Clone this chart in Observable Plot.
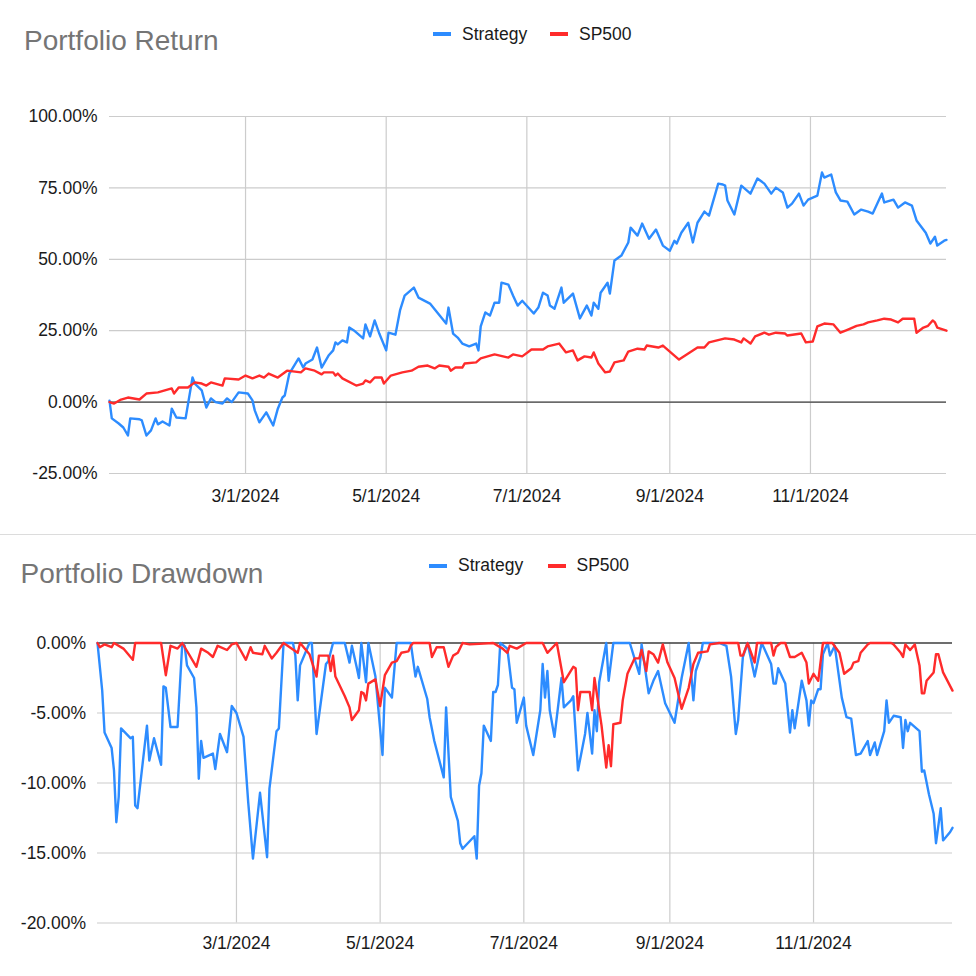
<!DOCTYPE html>
<html><head><meta charset="utf-8">
<script src="https://cdn.jsdelivr.net/npm/d3@7"></script>
<script src="https://cdn.jsdelivr.net/npm/@observablehq/plot@0.6"></script>
<style>
html,body{margin:0;padding:0;background:#fff;}
#wrap{position:relative;width:976px;height:976px;overflow:hidden;font-family:"Liberation Sans",Arial,sans-serif;background:#fff;}
.title{position:absolute;font-size:28px;line-height:28px;color:#757575;white-space:nowrap;}
.leg{position:absolute;font-size:17.5px;line-height:17.5px;color:#1a1a1a;white-space:nowrap;}
.sw{position:absolute;width:18px;height:4.5px;}
#sep{position:absolute;left:0;top:534px;width:976px;height:1px;background:#dcdcdc;}
#retChart{position:absolute;left:0;top:0;}
#ddChart{position:absolute;left:0;top:535px;}
</style></head>
<body><div id="wrap">
<div id="retChart"></div><div id="ddChart"></div><div id="sep"></div>
</div>
<script>
// ---- data (day of year 2024, percent) ----
const seriesNames = ["Strategy", "SP500"];
const seriesColors = ["#2d8cff", "#ff2b2b"];
const chartTitles = ["Portfolio Return", "Portfolio Drawdown"];
const xTickDates = ["2024-03-01", "2024-05-01", "2024-07-01", "2024-09-01", "2024-11-01"];
const xTickLabels = ["3/1/2024", "5/1/2024", "7/1/2024", "9/1/2024", "11/1/2024"];
const returnTicks = [-25, 0, 25, 50, 75, 100];
const drawdownTicks = [-20, -15, -10, -5, 0];

const strategyReturnDays = [2,3,6,8,10,11,15,16,18,20,22,23,25,28,29,31,35,38,39,42,44,46,48,51,53,55,58,62,64,65,67,70,73,75,77,78,80,84,86,87,90,92,94,97,99,100,101,103,105,106,108,112,113,115,117,119,122,123,126,128,130,134,136,141,148,149,151,153,155,158,161,162,163,165,167,169,171,172,175,177,179,181,186,188,190,192,193,195,198,199,203,206,209,211,212,214,215,218,219,221,224,227,228,231,233,236,239,242,245,247,248,250,253,255,257,260,262,266,268,269,270,273,276,280,283,286,289,291,294,296,298,301,303,305,309,311,312,315,317,319,322,325,328,331,333,335,337,338,342,344,347,350,352,356,358,360,361,364,365];
const strategyReturnValues = [0.5,-5.7,-7.5,-8.9,-11.7,-5.7,-6.0,-6.4,-11.7,-9.9,-5.7,-7.8,-6.8,-8.2,-2.3,-5.4,-5.7,8.6,6.5,4.1,-1.9,1.3,0.0,-0.5,1.3,0.0,3.4,3.0,0.6,-2.9,-7.1,-3.6,-8.2,-2.3,1.6,2.3,10.0,15.3,12.1,13.5,14.9,19.1,12.1,16.3,18.1,20.9,20.2,21.6,20.9,26.1,25.1,22.3,27.2,23.0,28.6,24.0,18.1,24.3,23.6,32.1,37.3,40.1,36.6,34.5,27.5,33.1,24.0,22.6,20.5,19.5,20.5,18.1,26.5,31.4,30.3,34.8,34.8,41.8,41.1,37.3,33.8,35.5,31.0,33.1,38.3,37.3,33.8,32.7,40.1,34.8,38.0,29.3,33.8,30.3,34.8,32.7,38.3,41.8,38.0,49.6,51.3,55.9,61.1,58.3,62.5,57.2,60.4,54.8,53.0,56.5,55.5,59.3,62.8,55.9,62.8,66.7,65.3,76.5,76.2,75.8,70.6,65.7,75.8,73.0,78.3,76.5,73.0,75.1,73.4,68.1,69.5,73.0,68.8,70.9,72.3,80.4,78.6,79.7,73.4,70.6,70.2,65.7,67.4,66.7,66.0,69.5,73.0,69.9,70.9,68.1,69.9,68.8,63.6,59.3,55.5,57.9,54.8,56.5,56.8];

const sp500ReturnDays = [2,4,7,10,15,18,23,29,30,32,36,39,42,44,46,51,52,58,61,64,67,69,71,75,79,85,87,91,94,95,99,100,101,103,109,112,113,115,117,120,121,124,129,133,136,140,143,145,149,150,152,155,156,161,163,169,175,177,181,185,190,192,197,200,203,205,208,211,212,214,217,219,221,225,227,231,234,235,240,242,249,253,257,260,262,269,273,276,277,280,282,286,288,291,295,296,302,304,307,309,312,316,319,322,326,329,331,335,338,341,344,346,351,352,355,357,359,360,361,365];
const sp500ReturnValues = [0.0,-0.5,0.9,1.6,0.9,3.0,3.4,4.8,3.0,5.1,5.1,6.9,6.5,5.8,6.9,5.8,8.3,7.9,9.3,8.3,9.3,8.6,10.0,8.6,11.0,10.4,11.8,11.0,9.7,10.4,10.4,9.3,10.0,8.3,5.8,6.5,7.6,6.9,8.6,8.6,6.5,9.3,10.4,11.0,12.4,12.8,11.8,12.8,12.4,11.0,12.1,12.1,13.5,13.9,15.3,16.7,15.6,16.7,16.0,18.4,18.4,19.5,20.5,17.4,18.1,14.6,16.0,15.6,17.4,13.5,10.4,10.7,13.9,14.6,17.7,18.7,18.4,19.8,19.1,19.8,14.9,17.0,19.1,19.1,20.9,22.3,21.9,20.9,22.3,20.5,23.0,24.3,23.6,24.3,24.0,23.3,24.0,20.9,21.2,26.5,27.5,27.2,24.3,25.3,26.7,27.2,27.9,28.6,29.2,28.9,27.9,29.2,29.2,24.3,26.1,26.7,28.6,27.9,26.1,25.0];

const strategyDrawdownDays = [2,4,5,8,9,10,11,12,16,17,18,19,23,24,26,29,30,31,33,36,38,39,40,43,44,45,46,47,51,52,54,57,59,61,64,66,68,71,74,75,78,79,81,85,86,87,88,92,93,95,99,100,102,107,109,110,112,113,114,116,117,120,123,124,127,129,135,137,138,142,143,145,149,150,152,155,156,157,162,163,164,165,166,169,170,171,172,173,176,178,179,180,183,184,187,190,191,192,193,194,196,199,200,203,204,206,209,210,212,213,214,215,218,219,221,228,232,233,236,238,240,243,247,250,253,255,256,258,259,266,269,271,273,274,276,278,281,284,288,289,290,291,294,296,297,298,301,303,304,305,306,308,309,310,312,313,315,318,320,322,324,326,329,330,332,333,336,337,338,340,343,344,345,346,347,351,352,353,355,357,358,360,361,364,365];
const strategyDrawdownValues = [0,-3.4,-6.4,-7.5,-9.1,-12.8,-11.0,-6.1,-6.8,-6.7,-11.6,-11.8,-5.9,-8.4,-6.8,-8.7,-3.1,-3.2,-6.0,-6.0,0,-0.2,-1.6,-2.5,-4.6,-9.7,-7.0,-8.2,-7.9,-9.0,-6.5,-7.8,-4.5,-5.0,-6.7,-11.4,-15.4,-10.7,-15.3,-10.4,-6.3,-6.1,0,0,-0.9,-4.1,-1.6,0,0,-6.5,-1.5,-1.3,0,0,-1.4,-0.2,-1.7,-2.5,0,-2.8,0,-2.4,-8.0,-3.2,-3.9,0,0,-2.4,-1.7,-4.0,-5.3,-7.0,-9.6,-4.6,-11.0,-12.7,-14.3,-14.7,-13.8,-15.4,-10.2,-9.3,-5.9,-7.0,-3.5,-3.5,-3.0,0,-0.4,-3.2,-3.3,-5.7,-3.9,-5.9,-8.0,-4.8,-1.5,-3.9,-2.0,-4.8,-6.7,-2.5,-4.6,-4.1,-3.8,-9.1,-6.5,-5.0,-7.9,-4.8,-6.3,-2.8,0,-2.7,0,0,-2.2,-0.1,-3.6,-2.7,-2.0,-4.3,-5.7,-2.5,0,-4.1,-2.0,-1.0,0,0,-0.2,-2.4,-6.5,-5.5,-1.0,0,-2.4,0,-1.5,-2.9,-2.9,-1.8,-2.9,-6.4,-4.8,-6.1,-2.7,-4.1,-5.9,-4.1,-4.3,-3.3,-3.3,-0.8,0,-0.9,-0.2,-3.9,-5.3,-5.4,-8.0,-7.9,-7.0,-8.0,-7.1,-8.0,-6.3,-4.1,-5.7,-5.2,-5.3,-7.5,-5.5,-6.3,-5.7,-6.3,-9.2,-9.1,-10.8,-12.2,-14.3,-11.8,-14.1,-13.5,-13.2];

const sp500DrawdownDays = [2,3,5,8,9,13,17,18,29,31,33,36,38,44,46,49,51,53,57,59,61,65,67,68,72,73,76,78,81,87,88,92,95,96,100,101,102,103,107,109,110,113,114,115,116,117,120,122,124,127,129,131,134,135,136,143,144,146,149,151,153,155,157,160,170,174,176,177,180,184,191,193,197,200,204,205,206,207,211,212,213,216,218,219,220,221,224,225,227,230,232,233,235,236,238,240,242,244,247,250,253,255,257,261,262,266,274,275,276,278,281,282,288,289,290,292,294,296,298,301,303,304,306,308,310,314,317,319,322,323,325,326,329,330,339,340,343,344,345,347,349,351,352,353,354,357,358,359,361,365];
const sp500DrawdownValues = [0,-0.3,-0.1,-0.3,0,-0.4,-1.2,0,0,-2.3,-0.2,-0.4,0,-1.7,-0.4,-0.7,-1.0,-0.2,-0.5,-0.1,0,-1.2,-0.3,-0.7,-0.8,-0.2,-1.1,-0.7,0,-0.7,0,-0.8,-2.4,-0.9,-0.9,-2.0,-0.9,-2.4,-3.8,-4.6,-5.5,-4.8,-3.5,-3.6,-4.1,-2.9,-2.6,-4.5,-2.3,-1.4,-1.3,-0.7,-0.6,-0.2,0,0,-1.0,-0.3,-0.3,-1.7,-0.9,-0.7,0,-0.1,0,-0.4,-0.7,-0.2,-0.4,0,0,-0.7,0,-2.8,-1.7,-1.8,-4.8,-3.5,-3.5,-4.8,-2.5,-5.9,-8.9,-7.3,-8.8,-5.8,-5.7,-4.1,-2.2,-1.1,-1.1,-0.5,-2.0,-0.6,-0.8,-1.4,-0.1,-1.4,-2.5,-4.7,-3.2,-1.5,-0.7,-0.6,-0.1,0,0,-0.9,-0.9,0,-1.4,0,0,-0.9,-0.3,0,0,-1.0,-1.0,-0.7,-1.4,-2.9,-2.2,-2.7,0,0,-0.7,-2.2,-1.8,-1.4,-1.3,-0.7,-0.1,0,0,-0.1,-0.7,-1.0,-0.1,-0.5,-0.1,-1.6,-3.6,-3.6,-2.7,-2.1,-0.8,-0.8,-2.1,-3.4];

// ---- helpers ----
const toDate = doy => new Date(Date.UTC(2024, 0, doy));
const rows = (days, values, name) => days.map((d, i) => ({date: toDate(d), value: values[i], series: name}));
const tickDates = xTickDates.map(s => new Date(s + "T00:00:00Z"));
const xFmt = d => xTickLabels[tickDates.findIndex(t => +t === +d)];
const pct = v => v.toFixed(2) + "%";
const FONT = "'Liberation Sans', Arial, sans-serif";
const xDomain = [toDate(2), toDate(365)];

function makeChart(opts) {
  const {height, marginLeft, marginRight, marginTop, marginBottom, yDomain, yTicks, yPad, xPad, data} = opts;
  return Plot.plot({
    width: 976, height, marginLeft, marginRight, marginTop, marginBottom,
    style: {fontFamily: FONT, fontSize: "17.5px", color: "#1a1a1a", background: "#fff", overflow: "visible"},
    x: {type: "utc", domain: xDomain},
    y: {domain: yDomain},
    marks: [
      Plot.ruleY(yTicks, {stroke: "#cccccc", strokeWidth: 1.2}),
      Plot.ruleX(tickDates, {stroke: "#cccccc", strokeWidth: 1.2}),
      Plot.ruleY([0], {stroke: "#444", strokeWidth: 1.3}),
      Plot.line(data[0], {x: "date", y: "value", stroke: seriesColors[0], strokeWidth: 2.4, strokeLinejoin: "round"}),
      Plot.line(data[1], {x: "date", y: "value", stroke: seriesColors[1], strokeWidth: 2.4, strokeLinejoin: "round"}),
      Plot.axisY(yTicks, {tickFormat: pct, tickSize: 0, tickPadding: yPad, label: null, fill: "#1a1a1a"}),
      Plot.axisX(tickDates, {tickFormat: xFmt, tickSize: 0, tickPadding: xPad, label: null, fill: "#1a1a1a"})
    ]
  });
}

const retChart = makeChart({
  height: 534, marginLeft: 109, marginRight: 30, marginTop: 116, marginBottom: 61,
  yDomain: [-25, 100], yTicks: returnTicks, yPad: 12, xPad: 16,
  data: [rows(strategyReturnDays, strategyReturnValues, seriesNames[0]), rows(sp500ReturnDays, sp500ReturnValues, seriesNames[1])]
});
document.getElementById("retChart").appendChild(retChart);

const ddChart = makeChart({
  height: 441, marginLeft: 97, marginRight: 24, marginTop: 107.5, marginBottom: 53.5,
  yDomain: [-20, 0], yTicks: drawdownTicks, yPad: 11.5, xPad: 14,
  data: [rows(strategyDrawdownDays, strategyDrawdownValues, seriesNames[0]), rows(sp500DrawdownDays, sp500DrawdownValues, seriesNames[1])]
});
document.getElementById("ddChart").appendChild(ddChart);

// ---- titles & legends ----
const wrap = document.getElementById("wrap");
function addEl(cls, text, left, top, bg) {
  const el = document.createElement("div");
  el.className = cls;
  if (text) el.textContent = text;
  el.style.left = left + "px";
  el.style.top = top + "px";
  if (bg) el.style.background = bg;
  wrap.appendChild(el);
}
// Return chart
addEl("title", chartTitles[0], 24, 27.3);
addEl("sw", null, 432.7, 31.7, seriesColors[0]);
addEl("leg", seriesNames[0], 462, 26.2);
addEl("sw", null, 550, 31.7, seriesColors[1]);
addEl("leg", seriesNames[1], 579, 26.2);
// Drawdown chart
addEl("title", chartTitles[1], 20.5, 559.6);
addEl("sw", null, 429, 563.8, seriesColors[0]);
addEl("leg", seriesNames[0], 458, 556.9);
addEl("sw", null, 547.6, 563.8, seriesColors[1]);
addEl("leg", seriesNames[1], 576.5, 556.9);
</script>
</body></html>
